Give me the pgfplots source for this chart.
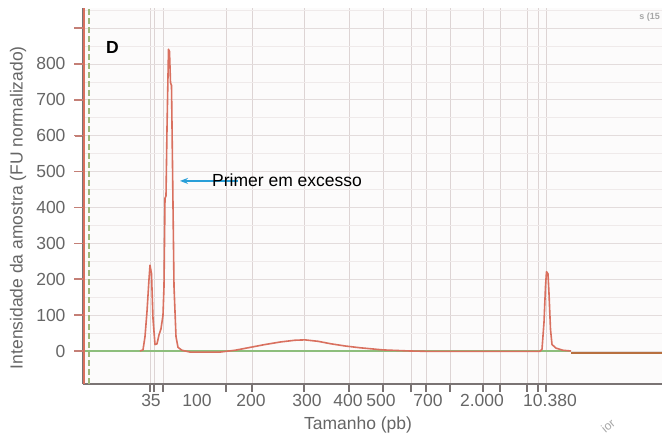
\documentclass[border=0pt]{standalone}
\usepackage{fontspec}
\setmainfont{Liberation Sans}
\usepackage{pgfplots}
\pgfplotsset{compat=1.18}
\usetikzlibrary{arrows.meta}

\definecolor{trace}{HTML}{D9705F}
\definecolor{baseline}{HTML}{8DBE7C}
\definecolor{tailcol}{HTML}{B8703F}
\definecolor{markergreen}{HTML}{9DB87A}
\definecolor{labelgray}{HTML}{666666}
\definecolor{axisgray}{HTML}{7A7474}
\definecolor{ytickcol}{HTML}{C47F76}
\definecolor{vgrid}{HTML}{DDD4D4}
\definecolor{hgrid}{HTML}{E3DCDC}
\definecolor{hminor}{HTML}{EFEAEA}
\definecolor{arrowblue}{HTML}{2A9FD8}
\definecolor{plotbg}{HTML}{FCFBFB}

\begin{document}
\begin{tikzpicture}
\path[use as bounding box] (0,0) rectangle (662bp,438bp);
\begin{axis}[
  at={(83bp,54bp)}, anchor=south west,
  scale only axis, width=579bp, height=376bp,
  xmin=83, xmax=662, ymin=-92, ymax=956,
  axis background/.style={fill=plotbg},
  axis x line=bottom, axis y line=left,
  axis line style={-, line width=1.6bp, color=axisgray},
  font=\fontsize{17.5bp}{20bp}\selectfont,
  /pgf/number format/assume math mode=true,
  tick align=outside,
  % ladder positions along the size axis
  xtick={150,154,163,226,252,304,349,383,411,426,450,483,500,527,538,546},
  xticklabels={},
  xtick style={color=axisgray, line width=1.2bp},
  major tick length=8bp,
  extra x ticks={151,197,251,307,348,381,428,482,550},
  extra x tick labels={35,100,200,300,400,500,700,{2.000},{10.380}},
  extra x tick style={grid=none, major tick length=0pt,
    xticklabel style={anchor=base, yshift=-22bp}},
  ytick={0,100,...,900},
  yticklabels={0,100,200,300,400,500,600,700,800,},
  minor ytick={50,150,...,950},
  ytick style={color=ytickcol, line width=1.6bp},
  minor tick length=0pt,
  yticklabel style={anchor=east, xshift=-6bp},
  tick label style={color=labelgray},
  xmajorgrids, ymajorgrids, yminorgrids,
  x grid style={color=vgrid, line width=0.8bp},
  y grid style={color=hgrid, line width=0.9bp},
  minor y grid style={color=hminor, line width=0.6bp},
  xlabel={Tamanho (pb)},
  xlabel style={at={(axis description cs:0.475,0)}, anchor=center, yshift=-41bp, color=labelgray},
  ylabel={Intensidade da amostra (FU normalizado)},
  ylabel style={at={(axis description cs:0,0.469)}, anchor=center, yshift=65bp, color=labelgray},
  clip=true,
]
% lower marker line
\addplot[color=markergreen, line width=1.2bp, dash pattern=on 6bp off 3bp]
  coordinates {(89,-92) (89,956)};
% baseline
\addplot[color=baseline, line width=2bp] coordinates {(83,0) (571,0)};
\addplot[color=tailcol, line width=2.6bp] coordinates {(571,-6) (662,-6)};
% sample trace
\addplot[color=trace, line width=1.4bp] coordinates {(84,-92) (84,956)};
\addplot[color=trace, line width=1.6bp, line join=round] coordinates {
  (140,0) (143,3) (145,40) (147,110) (149,200) (150,239) (151.5,215)
  (153,90) (155,18) (157,20) (159,45) (161,62) (163,100)
  (164,180) (165,426) (166,432) (167,620) (168.5,841) (169.5,835)
  (170.5,748) (171.5,740) (172.5,520) (174,180) (176,40) (178,10)
  (182,2) (190,-3) (220,-3) (235,2) (250,10) (265,18) (280,25)
  (295,30) (305,31) (318,27) (331,20) (345,14) (360,9) (383,3)
  (410,0) (427,-1) (540,-1) (542,5) (544,80) (545.5,180) (546.5,221)
  (548,215) (549,160) (550.5,60) (552,18) (556,8) (563,2) (571,0)
};
\node[font=\fontsize{17.5bp}{20bp}\selectfont\bfseries, anchor=center] at (axis cs:112.5,847) {D};
\draw[arrowblue, line width=1.4bp, -{Stealth[length=8bp, width=6bp]}] (axis cs:238,474) -- (axis cs:180,474);
\node[anchor=west, inner sep=0pt, font=\fontsize{17.5bp}{20bp}\selectfont] at (axis cs:212,477) {Primer em excesso};
\end{axis}
% left-hand tick marks of the intensity axis (0 to 900, every 100)
\foreach \k in {0,...,9}
  \draw[ytickcol, line width=1.5bp] (74bp,{(87.01+35.878*\k)*1bp}) -- (83bp,{(87.01+35.878*\k)*1bp});
\node[anchor=east, inner sep=0pt, font=\bfseries\fontsize{9bp}{10bp}\selectfont, color=gray!70] at (660bp,421bp) {s (15};
\node[rotate=40, anchor=center, inner sep=0pt, font=\fontsize{12bp}{13bp}\selectfont, color=gray!70] at (608bp,12bp) {ior};
\end{tikzpicture}
\end{document}
